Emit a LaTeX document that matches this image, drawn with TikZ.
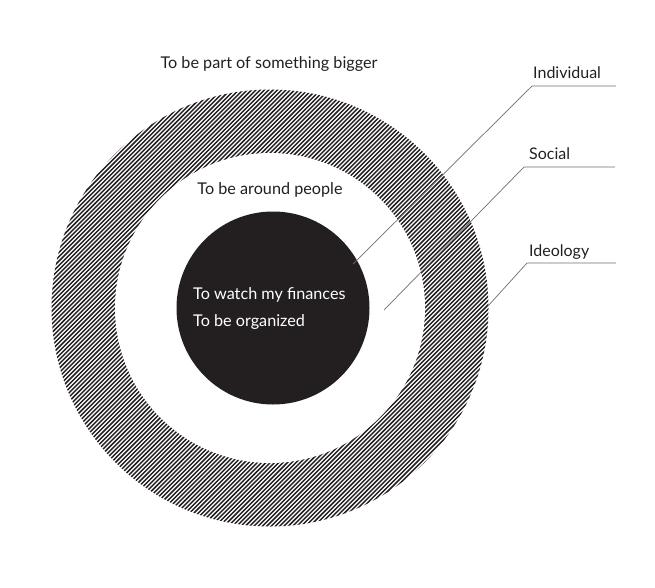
\documentclass[tikz,border=0pt]{standalone}
\usepackage{fontspec}
\usetikzlibrary{calc}
\setmainfont{Lato}
\definecolor{ink}{HTML}{231F20}
\definecolor{leader}{HTML}{6E6E6E}
\begin{document}
\begin{tikzpicture}[x=1pt,y=-1pt,
  lbl/.style={font=\fontsize{16.2}{19}\selectfont, text=ink, inner sep=0pt},
  wlbl/.style={font=\fontsize{16.2}{19}\selectfont, text=white, inner sep=0pt, anchor=west},
  side/.style={font=\fontsize{16}{19}\selectfont, text=ink, inner sep=0pt, anchor=west},
  leaderline/.style={draw=leader, line width=0.7pt},
  hatch/.style={draw=ink, line width=1.45pt}]
\useasboundingbox (0,0) rectangle (655,587);
\coordinate (c) at (270,308);
% hatched ring
\begin{scope}
  \clip (c) circle (218.5);
  \foreach \k in {-80,...,80}{
    \draw[hatch] ($(c)+(\k*4.3-260,260)$) -- ($(c)+(\k*4.3+260,-260)$);
  }
\end{scope}
\fill[white] (c) circle (155);
% core disk
\node[circle, fill=ink, minimum size=193pt, inner sep=0pt] (core) at (273,308) {};
% texts
\node[lbl] (big) at (269,64) {To be part of something bigger};
\node[lbl] (around) at (270,190) {To be around people};
\node[wlbl] (fin) at (193,295) {To watch my finances};
\node[wlbl] (org) at (193,322) {To be organized};
% side labels
\node[side] (ind) at (533,73) {Individual};
\node[side] (soc) at (529,154) {Social};
\node[side] (ideo) at (529,252) {Ideology};
% leader lines
\coordinate (indK) at (532,86);
\coordinate (indE) at (616,86);
\coordinate (indT) at (353,264);
\coordinate (socK) at (524,167);
\coordinate (socE) at (615,167);
\coordinate (socT) at (384,310);
\coordinate (ideK) at (527,263);
\coordinate (ideE) at (616,263);
\coordinate (ideT) at (488,306);
\draw[leaderline] (indE) -- (indK) -- (indT);
\draw[leaderline] (socE) -- (socK) -- (socT);
\draw[leaderline] (ideE) -- (ideK) -- (ideT);
\end{tikzpicture}
\end{document}
